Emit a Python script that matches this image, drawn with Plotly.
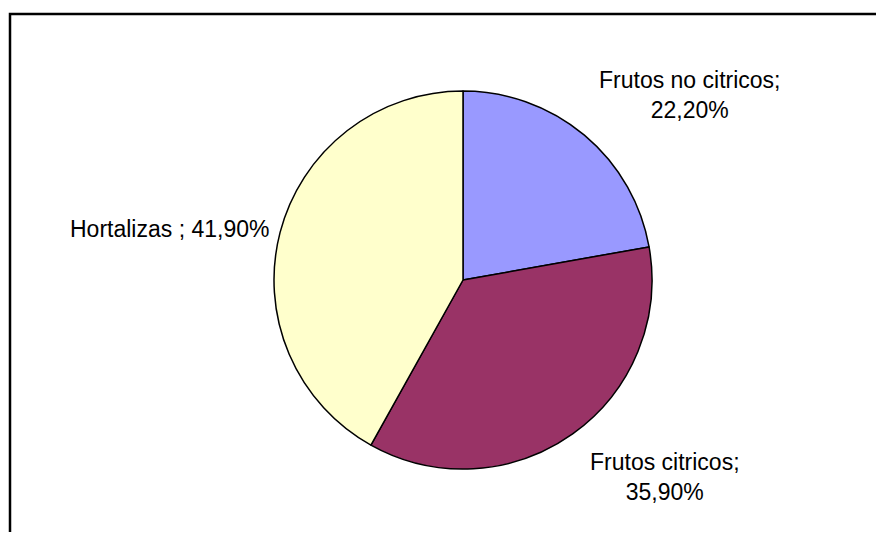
import plotly.graph_objects as go

labels = ["Frutos no citricos", "Frutos citricos", "Hortalizas "]
values = [22.2, 35.9, 41.9]
colors = ["#9999FF", "#993366", "#FFFFCC"]
value_text = ["22,20%", "35,90%", "41,90%"]

# page has an 8px body margin; figure coordinates below are page coords - 8
W, H = 868, 524

fig = go.Figure()
fig.add_trace(go.Pie(
    labels=labels,
    values=values,
    sort=False,
    direction="clockwise",
    rotation=0,
    marker=dict(colors=colors, line=dict(color="black", width=1.5)),
    textinfo="none",
    hoverinfo="label+percent",
    showlegend=False,
    domain=dict(x=[266 / W, 644 / W], y=[(H - 461) / H, (H - 83) / H]),
))

font = dict(family="Liberation Sans, Arial, sans-serif", size=23, color="black")
ann_pos = [(682, 87, labels[0] + ";<br>" + value_text[0]),
           (657, 469, labels[1] + ";<br>" + value_text[1]),
           (161, 221, labels[2] + "; " + value_text[2])]
for x, y, t in ann_pos:
    fig.add_annotation(x=x / W, y=1 - y / H, xref="paper", yref="paper",
                       text=t, showarrow=False, font=font, align="center",
                       xanchor="center", yanchor="middle")

fig.add_shape(type="rect", xref="paper", yref="paper",
              x0=2 / W, x1=1.05, y0=-0.05, y1=1 - 6 / H,
              line=dict(color="black", width=2.5), fillcolor="rgba(0,0,0,0)")

fig.update_layout(width=W, height=H, margin=dict(l=0, r=0, t=0, b=0),
                  paper_bgcolor="white", plot_bgcolor="white")

fig.write_html("out.html")
